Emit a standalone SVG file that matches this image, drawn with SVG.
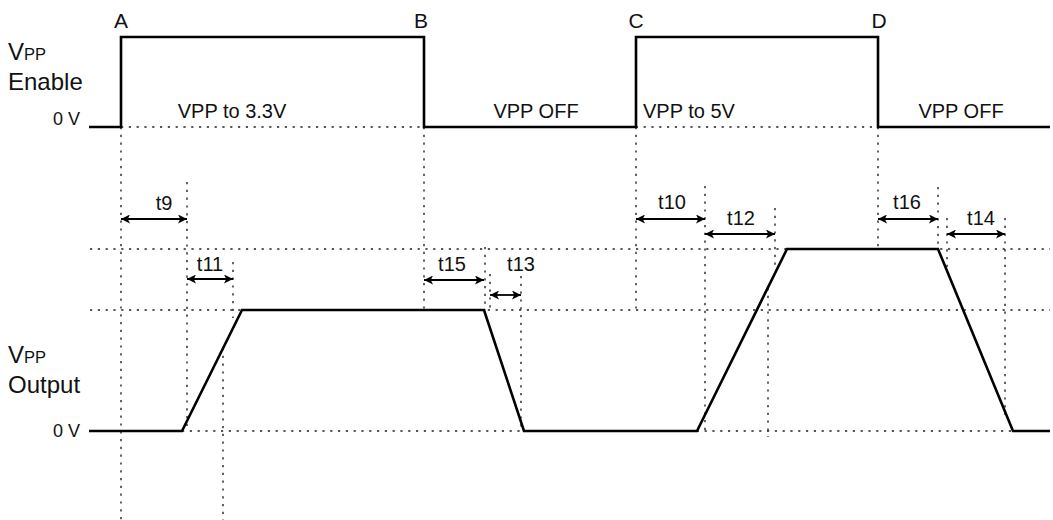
<svg xmlns="http://www.w3.org/2000/svg" width="1053" height="520" viewBox="0 0 1053 520">
<style>
  .dot { stroke:#222; stroke-width:1.4; stroke-dasharray:2.2 5.6; fill:none; }
  .wave { stroke:#000; stroke-width:2.6; fill:none; stroke-linejoin:miter; }
  .arr { stroke:#000; stroke-width:1.8; fill:none; marker-start:url(#ah); marker-end:url(#ah); }
  text { font-family:"Liberation Sans", Arial, sans-serif; fill:#111; }
  .big { font-size:24px; }
  .sub { font-size:16.5px; }
  .zero { font-size:18px; text-anchor:end; }
  .pt { font-size:21px; text-anchor:middle; }
  .st { font-size:20px; text-anchor:middle; }
  .tl { font-size:20px; text-anchor:middle; }
</style>
<defs>
  <marker id="ah" viewBox="0 0 10 10" refX="10" refY="5" markerWidth="9" markerHeight="9" markerUnits="userSpaceOnUse" orient="auto-start-reverse">
    <path d="M0,0 L10,5 L0,10 L2.5,5 z" fill="#000"/>
  </marker>
</defs>

<g id="guides">
  <line class="dot" x1="121" y1="127" x2="878" y2="127"/>
  <line class="dot" x1="90" y1="249" x2="1050" y2="249"/>
  <line class="dot" x1="90" y1="310" x2="1050" y2="310"/>
  <line class="dot" x1="182" y1="431" x2="1050" y2="431"/>
  <line class="dot" x1="121" y1="127" x2="121" y2="520"/>
  <line class="dot" x1="187" y1="182" x2="187" y2="431"/>
  <line class="dot" x1="233" y1="262" x2="233" y2="318"/>
  <line class="dot" x1="223" y1="348" x2="223" y2="520"/>
  <line class="dot" x1="424" y1="127" x2="424" y2="310"/>
  <line class="dot" x1="485" y1="247" x2="485" y2="310"/>
  <line class="dot" x1="490" y1="274" x2="490" y2="310"/>
  <line class="dot" x1="521" y1="276" x2="521" y2="431"/>
  <line class="dot" x1="636" y1="127" x2="636" y2="310"/>
  <line class="dot" x1="705" y1="186" x2="705" y2="431"/>
  <line class="dot" x1="775" y1="208" x2="775" y2="266"/>
  <line class="dot" x1="768" y1="288" x2="768" y2="437"/>
  <line class="dot" x1="878" y1="127" x2="878" y2="249"/>
  <line class="dot" x1="938" y1="187" x2="938" y2="249"/>
  <line class="dot" x1="947" y1="218" x2="947" y2="268"/>
  <line class="dot" x1="1005" y1="218" x2="1005" y2="415"/>
</g>

<g id="vpp-enable">
  <path class="wave" d="M89,127 H121 V37 H424 V127 H636 V37 H878 V127 H1050"/>
  <text x="8" y="60" class="big">V<tspan class="sub">PP</tspan></text>
  <text x="8" y="90" class="big">Enable</text>
  <text x="80" y="125" class="zero">0 V</text>
  <text x="121" y="28" class="pt">A</text>
  <text x="421" y="28" class="pt">B</text>
  <text x="636" y="28" class="pt">C</text>
  <text x="879" y="28" class="pt">D</text>
  <text x="232" y="118" class="st">VPP to 3.3V</text>
  <text x="536" y="118" class="st">VPP OFF</text>
  <text x="689" y="118" class="st">VPP to 5V</text>
  <text x="961" y="118" class="st">VPP OFF</text>
</g>

<g id="vpp-output">
  <path class="wave" d="M89,431 H182 L242,310 H484 L524,431 H697 L787,249 H938 L1013,431 H1050"/>
  <text x="8" y="363" class="big">V<tspan class="sub">PP</tspan></text>
  <text x="8" y="393" class="big">Output</text>
  <text x="80" y="437" class="zero">0 V</text>
</g>

<g id="connectors">
  <line class="arr" x1="121" y1="219" x2="187" y2="219"/>
  <line class="arr" x1="187" y1="279" x2="233" y2="279"/>
  <line class="arr" x1="424" y1="280" x2="484" y2="280"/>
  <line class="arr" x1="490" y1="295" x2="521" y2="295"/>
  <line class="arr" x1="636" y1="219" x2="705" y2="219"/>
  <line class="arr" x1="705" y1="234" x2="775" y2="234"/>
  <line class="arr" x1="878" y1="219" x2="938" y2="219"/>
  <line class="arr" x1="947" y1="234" x2="1005" y2="234"/>
</g>

<g id="timing-labels">
  <text x="164" y="210" class="tl">t9</text>
  <text x="210" y="271" class="tl">t11</text>
  <text x="452" y="271" class="tl">t15</text>
  <text x="521" y="271" class="tl">t13</text>
  <text x="672" y="209" class="tl">t10</text>
  <text x="741" y="225" class="tl">t12</text>
  <text x="907" y="209" class="tl">t16</text>
  <text x="981" y="225" class="tl">t14</text>
</g>
</svg>
